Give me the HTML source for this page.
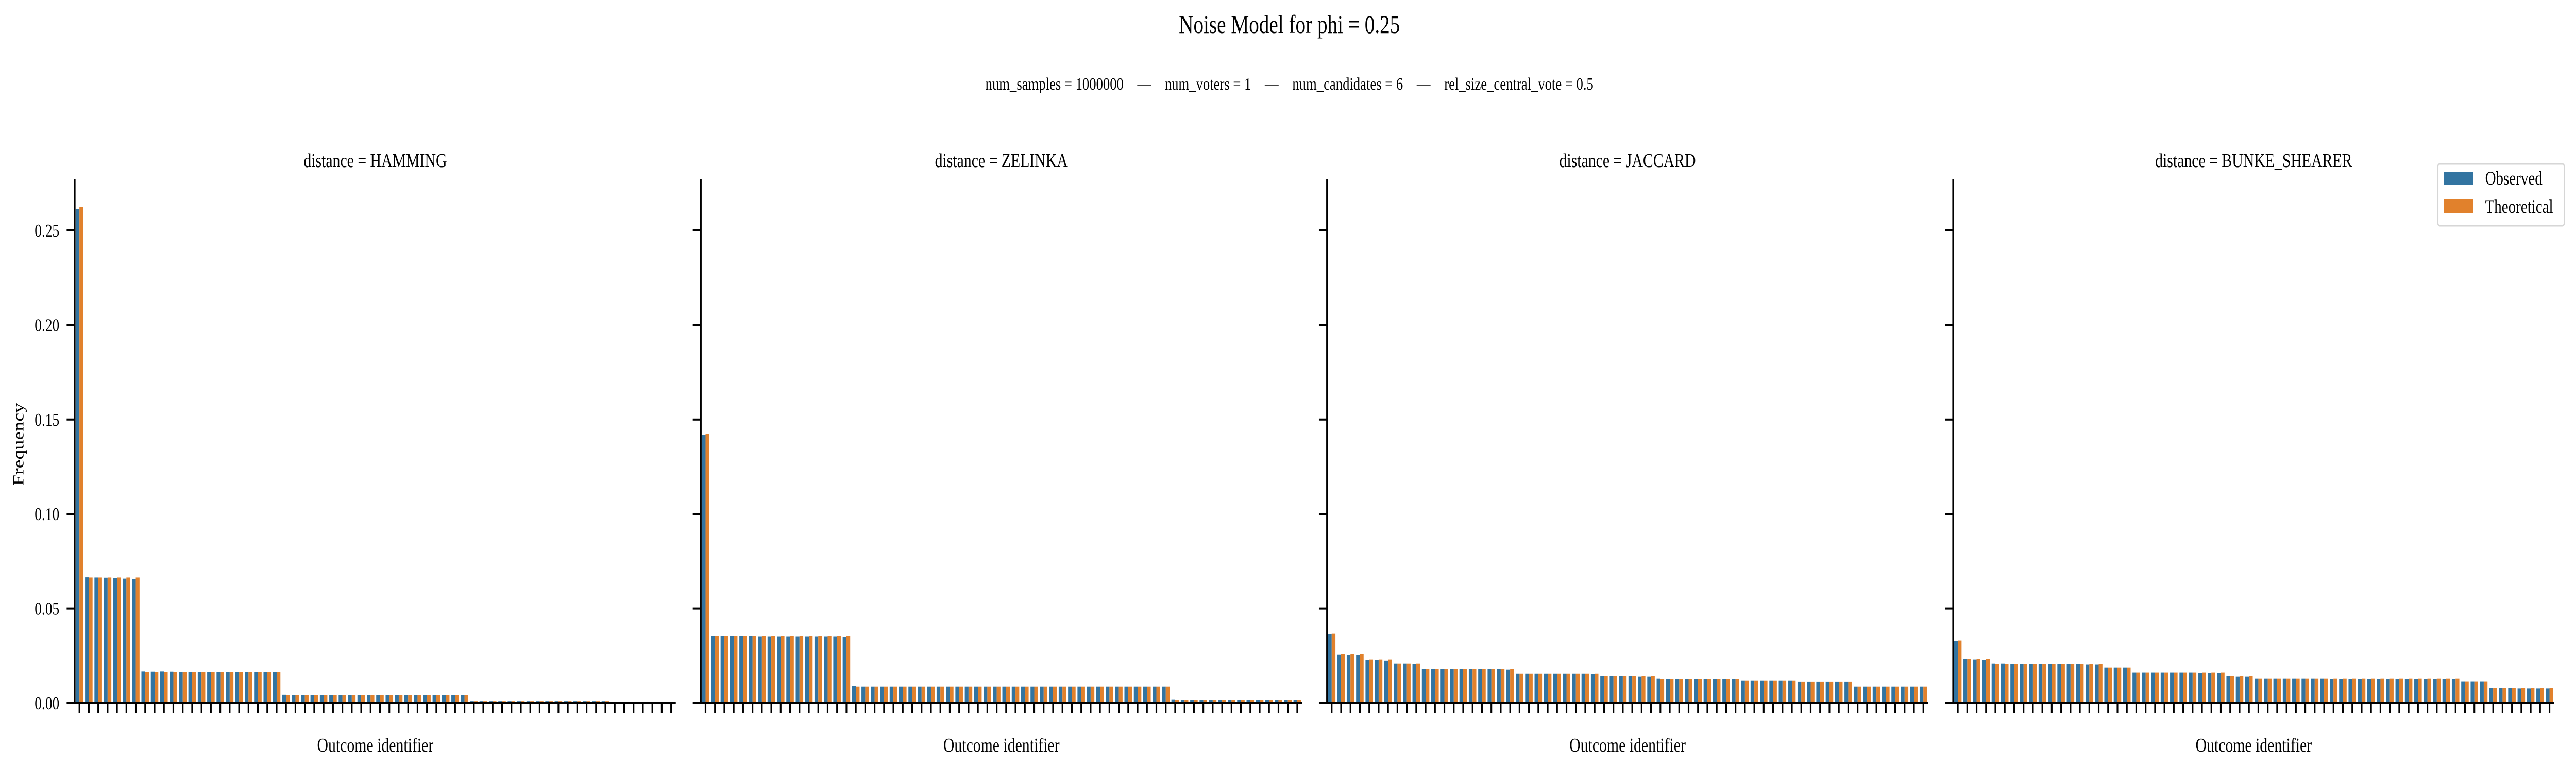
<!DOCTYPE html>
<html><head><meta charset="utf-8"><style>
html,body{margin:0;padding:0;background:#fff;width:100%;height:100%;overflow:hidden}
svg{display:block;font-family:"Liberation Serif",serif;width:100vw;height:100vh}
</style></head><body>
<svg id="chart" viewBox="0 0 6377 1486" preserveAspectRatio="none" xmlns="http://www.w3.org/2000/svg">
<rect width="6377" height="1486" fill="#fff"/>
<text x="3192" y="64" font-size="50" text-anchor="middle">Noise Model for phi = 0.25</text>
<text x="3192" y="174" font-size="34" text-anchor="middle" xml:space="preserve" style="white-space:pre">num_samples = 1000000    —    num_voters = 1    —    num_candidates = 6    —    rel_size_central_vote = 0.5</text>
<text transform="translate(58,862) rotate(-90)" font-size="38" text-anchor="middle">Frequency</text>
<g id="panels"></g>
<g>
<rect x="6035" y="318" width="313" height="120" rx="5" fill="#fff" stroke="#d6d6d6" stroke-width="3"/>
<rect x="6050" y="333" width="73" height="25" fill="#3274a1"/>
<text x="6152" y="358" font-size="37">Observed</text>
<rect x="6050" y="387" width="73" height="26" fill="#e1812c"/>
<text x="6152" y="413" font-size="37">Theoretical</text>
</g>
</svg>
<script>
const panelTitles = ["distance = HAMMING","distance = ZELINKA","distance = JACCARD","distance = BUNKE_SHEARER"];
const yTicks = [0,0.05,0.10,0.15,0.20,0.25];
const yTickLabels = ["0.00","0.05","0.10","0.15","0.20","0.25"];
function rep(v,n){return Array(n).fill(v);}
const hammingObs = [0.2612,0.0665,0.0664,0.0663,0.0660,0.0658,0.0656,0.0168,0.0167,0.0168,0.0167,0.0166,0.0166,0.0166,0.0166,0.0166,0.0166,0.0166,0.0166,0.0166,0.0165,0.0164].concat([0.0044],rep(0.0042,19),rep(0.00105,15),rep(0.00026,6),[0.00007]);
const hammingTheo = [0.2625].concat(rep(0.0664,6),rep(0.0166,15),rep(0.0042,20),rep(0.00105,15),rep(0.00026,6),[0.00007]);
const zelinkaObs = [0.1420,0.0357,0.0355,0.0355,0.0355,0.0355,0.0353,0.0353,0.0353,0.0353,0.0353,0.0353,0.0353,0.0353,0.0353,0.0350,0.0090].concat(rep(0.0088,33),[0.0020],rep(0.0019,13));
const zelinkaTheo = [0.1425].concat(rep(0.0355,15),rep(0.0088,34),rep(0.0019,14));
const jaccardObs = [0.0366,0.0257,0.0254,0.0254,0.0227,0.0227,0.0224,0.0208,0.0208,0.0205].concat(rep(0.0181,9),[0.0178],rep(0.0156,8),[0.0153],[0.0143,0.0143,0.0143,0.0143,0.0140,0.0140],[0.0129],rep(0.0126,8),rep(0.0118,6),rep(0.0112,6),rep(0.0088,8));
const jaccardTheo = [0.0369].concat(rep(0.0260,3),rep(0.0230,3),rep(0.0208,3),rep(0.0181,10),rep(0.0156,9),rep(0.0143,6),rep(0.0126,9),rep(0.0118,6),rep(0.0112,6),rep(0.0088,8));
const bunkeObs = [0.0328,0.0233,0.0230,0.0228,0.0208,0.0208].concat(rep(0.0205,8),[0.0203,0.0203],rep(0.0189,3),rep(0.0162,7),[0.0160,0.0160,0.0160],[0.0143,0.0140,0.0140],rep(0.0129,8),rep(0.0127,14),rep(0.0113,3),rep(0.0080,3),[0.0078,0.0078,0.0078,0.0078]);
const bunkeTheo = [0.0331].concat(rep(0.0233,3),rep(0.0205,12),rep(0.0189,3),rep(0.0162,10),rep(0.0143,3),rep(0.0129,22),rep(0.0113,3),rep(0.0080,7));
const observed = [hammingObs,zelinkaObs,jaccardObs,bunkeObs];
const theoretical = [hammingTheo,zelinkaTheo,jaccardTheo,bunkeTheo];

const NS="http://www.w3.org/2000/svg";
const Y0=1364, YTOP=348, YS=3668, PX0=185, PSTEP=1550, PW=1488;
function yScale(v){return Y0 - v*YS;}
function mk(tag,attrs,parent){const e=document.createElementNS(NS,tag);for(const k in attrs)e.setAttribute(k,attrs[k]);parent.appendChild(e);return e;}
const root=document.getElementById('panels');
for(let p=0;p<4;p++){
  const x0=PX0+p*PSTEP;
  const g=mk('g',{},root);
  
  
  const t=mk('text',{x:x0+PW/2,y:324,'font-size':38,'text-anchor':'middle'},g);
  t.textContent=panelTitles[p];
  
  
  const obs=observed[p], th=theoretical[p];
  const n=obs.length, band=PW/n, bw=band*0.4;
  for(let i=0;i<n;i++){
    const cx=x0+(i+0.5)*band;
    const b1=mk('rect',{x:cx-bw,y:yScale(obs[i]),width:bw,height:Math.max(0,Y0-yScale(obs[i])),fill:'#3274a1'},g);
    
    
    const b2=mk('rect',{x:cx,y:yScale(th[i]),width:bw,height:Math.max(0,Y0-yScale(th[i])),fill:'#e1812c'},g);
    
    
    const tk=mk('line',{x1:cx,x2:cx,y1:Y0,y2:Y0+20,stroke:'#000','stroke-width':4},g);
    
    
  }
  const ya=mk('line',{x1:x0,x2:x0,y1:YTOP,y2:Y0+2,stroke:'#000','stroke-width':4},g);
  
  
  const xa=mk('line',{x1:x0-2,x2:x0+PW,y1:Y0,y2:Y0,stroke:'#000','stroke-width':4},g);
  
  
  for(let k=0;k<yTicks.length;k++){
    const yy=yScale(yTicks[k]);
    const yt=mk('line',{x1:x0-20,x2:x0,y1:yy,y2:yy,stroke:'#000','stroke-width':4},g);
    
    
    if(p===0){
      const lb=mk('text',{x:147,y:yy+12,'font-size':35,'text-anchor':'end'},g);
      lb.textContent=yTickLabels[k];
      
      
    }
  }
  const xl=mk('text',{x:x0+PW/2,y:1458,'font-size':38,'text-anchor':'middle'},g);
  xl.textContent='Outcome identifier';
  
  
}
</script>
</body></html>
